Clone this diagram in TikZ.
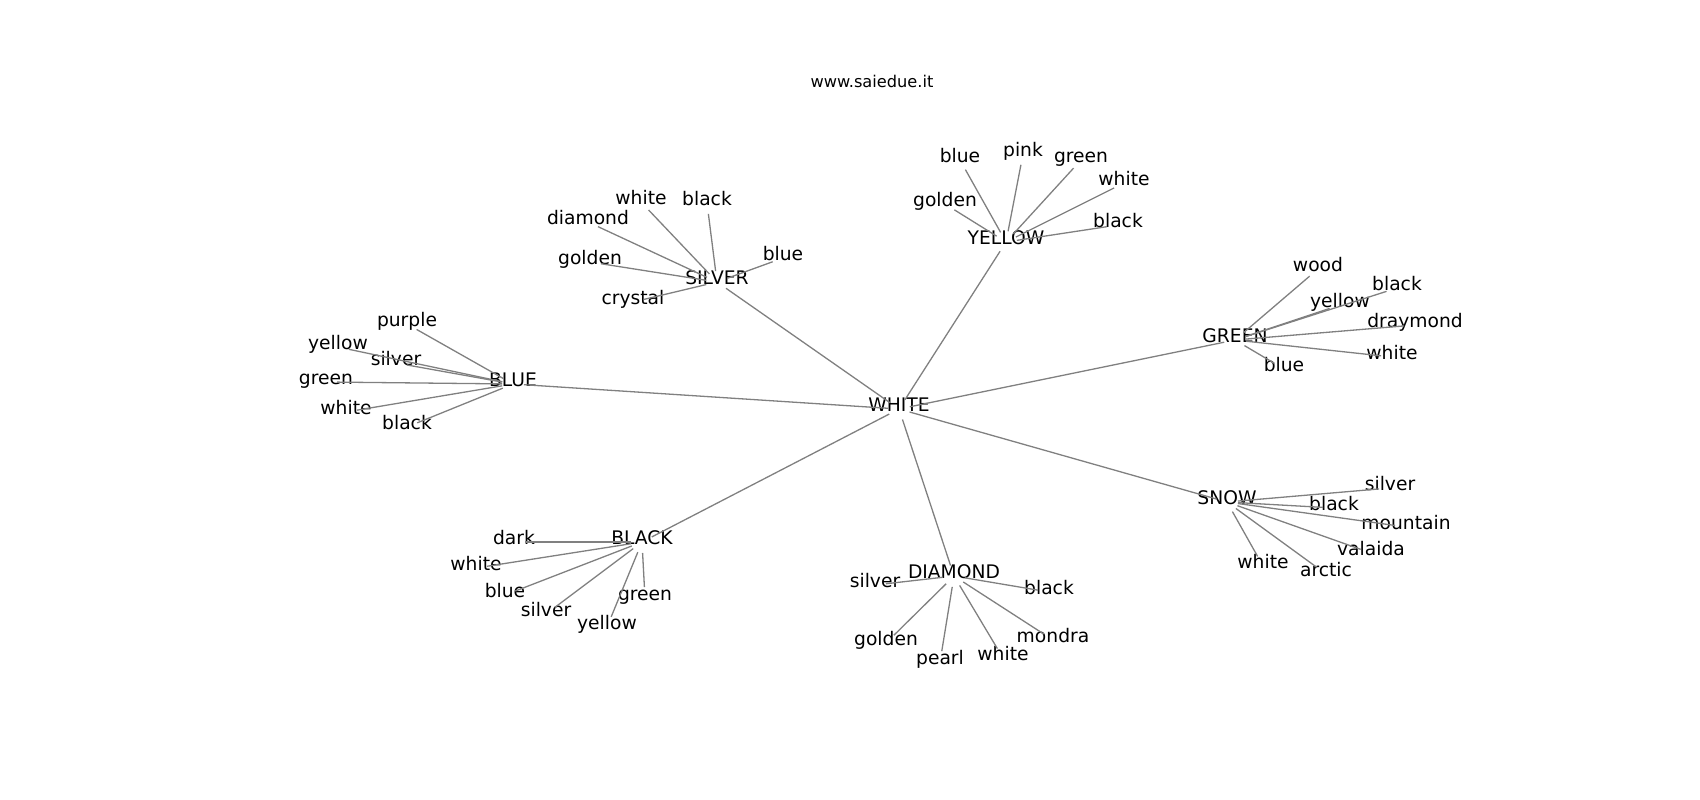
\documentclass[tikz,border=0pt]{standalone}
\usepackage{fontspec}
\setmainfont{DejaVu Sans}
\begin{document}
\begin{tikzpicture}[x=1pt,y=-1pt,
  lbl/.style={inner sep=0pt, font=\fontsize{18.7pt}{22pt}\selectfont, text height=0.76em, text depth=0.24em, anchor=center},
  ttl/.style={inner sep=0pt, font=\fontsize{16.2pt}{19pt}\selectfont, anchor=center},
  edge/.style={draw=gray, line width=1.3pt, shorten >=11pt, shorten <=11pt}]
\useasboundingbox (0,0) rectangle (1700,800);
\node[ttl] (title) at (872,81) {www.saiedue.it};
\begin{scope}[yshift=-5pt]
% hubs
\node[lbl] (WHITE) at (899,404) {WHITE};
\node[lbl] (BLUE) at (513,379) {BLUE};
\node[lbl] (SILVER) at (717,277) {SILVER};
\node[lbl] (YELLOW) at (1006,237) {YELLOW};
\node[lbl] (GREEN) at (1235,335) {GREEN};
\node[lbl] (SNOW) at (1227,497) {SNOW};
\node[lbl] (DIAMOND) at (954,571) {DIAMOND};
\node[lbl] (BLACK) at (642,537) {BLACK};
% SILVER leaves
\node[lbl] (sWhite) at (641,197) {white};
\node[lbl] (sBlack) at (707,198) {black};
\node[lbl] (sDiamond) at (588,217) {diamond};
\node[lbl] (sGolden) at (590,257) {golden};
\node[lbl] (sBlue) at (783,253) {blue};
\node[lbl] (sCrystal) at (633,297) {crystal};
% YELLOW leaves
\node[lbl] (yBlue) at (960,155) {blue};
\node[lbl] (yPink) at (1023,149) {pink};
\node[lbl] (yGreen) at (1081,155) {green};
\node[lbl] (yWhite) at (1124,178) {white};
\node[lbl] (yGolden) at (945,199) {golden};
\node[lbl] (yBlack) at (1118,220) {black};
% GREEN leaves
\node[lbl] (gWood) at (1318,264) {wood};
\node[lbl] (gBlack) at (1397,283) {black};
\node[lbl] (gYellow) at (1340,300) {yellow};
\node[lbl] (gDraymond) at (1415,320) {draymond};
\node[lbl] (gWhite) at (1392,352) {white};
\node[lbl] (gBlue) at (1284,364) {blue};
% BLUE leaves
\node[lbl] (bPurple) at (407,319) {purple};
\node[lbl] (bYellow) at (338,342) {yellow};
\node[lbl] (bSilver) at (396,358) {silver};
\node[lbl] (bGreen) at (326,377) {green};
\node[lbl] (bWhite) at (346,407) {white};
\node[lbl] (bBlack) at (407,422) {black};
% BLACK leaves
\node[lbl] (kDark) at (514,537) {dark};
\node[lbl] (kWhite) at (476,563) {white};
\node[lbl] (kBlue) at (505,590) {blue};
\node[lbl] (kSilver) at (546,609) {silver};
\node[lbl] (kYellow) at (607,622) {yellow};
\node[lbl] (kGreen) at (645,593) {green};
% DIAMOND leaves
\node[lbl] (dSilver) at (875,580) {silver};
\node[lbl] (dBlack) at (1049,587) {black};
\node[lbl] (dGolden) at (886,638) {golden};
\node[lbl] (dPearl) at (940,657) {pearl};
\node[lbl] (dWhite) at (1003,653) {white};
\node[lbl] (dMondra) at (1053,635) {mondra};
% SNOW leaves
\node[lbl] (nSilver) at (1390,483) {silver};
\node[lbl] (nBlack) at (1334,503) {black};
\node[lbl] (nMountain) at (1406,522) {mountain};
\node[lbl] (nValaida) at (1371,548) {valaida};
\node[lbl] (nWhite) at (1263,561) {white};
\node[lbl] (nArctic) at (1326,569) {arctic};
\end{scope}
% edges
\foreach \h in {BLUE,SILVER,YELLOW,GREEN,SNOW,DIAMOND,BLACK}
  \draw[edge] (WHITE.center) -- (\h.center);
\foreach \l in {sWhite,sBlack,sDiamond,sGolden,sBlue,sCrystal}
  \draw[edge] (SILVER.center) -- (\l.center);
\foreach \l in {yBlue,yPink,yGreen,yWhite,yGolden,yBlack}
  \draw[edge] (YELLOW.center) -- (\l.center);
\foreach \l in {gWood,gBlack,gYellow,gDraymond,gWhite,gBlue}
  \draw[edge] (GREEN.center) -- (\l.center);
\foreach \l in {bPurple,bYellow,bSilver,bGreen,bWhite,bBlack}
  \draw[edge] (BLUE.center) -- (\l.center);
\foreach \l in {kDark,kWhite,kBlue,kSilver,kYellow,kGreen}
  \draw[edge] (BLACK.center) -- (\l.center);
\foreach \l in {dSilver,dBlack,dGolden,dPearl,dWhite,dMondra}
  \draw[edge] (DIAMOND.center) -- (\l.center);
\foreach \l in {nSilver,nBlack,nMountain,nValaida,nWhite,nArctic}
  \draw[edge] (SNOW.center) -- (\l.center);
\end{tikzpicture}
\end{document}
